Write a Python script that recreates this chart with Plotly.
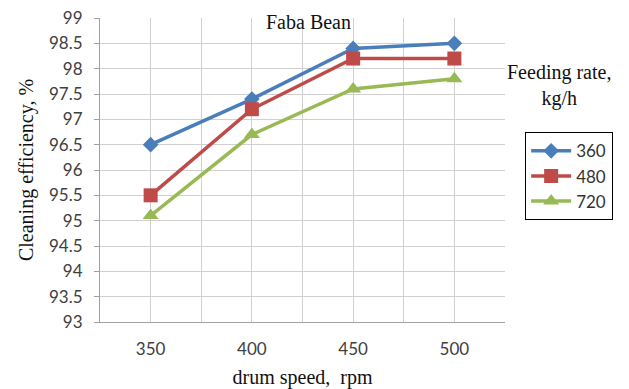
import plotly.graph_objects as go

speeds = [350, 400, 450, 500]
series_names = ["360", "480", "720"]
eff_360 = [96.5, 97.4, 98.4, 98.5]
eff_480 = [95.5, 97.2, 98.2, 98.2]
eff_720 = [95.1, 96.7, 97.6, 97.8]
y_ticks = [93, 93.5, 94, 94.5, 95, 95.5, 96, 96.5, 97, 97.5, 98, 98.5, 99]

colors = ["#4a7ebb", "#be4b48", "#98b954"]
symbols = ["diamond", "square", "triangle-up"]
sizes = [12, 14, 14]

serif = dict(family="Liberation Serif, serif", size=20, color="#111")

fig = go.Figure()
for name, vals, c, s, sz in zip(series_names, [eff_360, eff_480, eff_720], colors, symbols, sizes):
    fig.add_trace(go.Scatter(x=speeds, y=vals, name=name, mode="lines+markers",
                             line=dict(color=c, width=3.5),
                             marker=dict(symbol=s, size=sz, color=c)))

grid_x = [325, 350, 375, 400, 425, 450, 475, 500, 525]
fig.update_layout(
    width=629, height=389,
    margin=dict(l=100, r=124, t=18, b=67),
    paper_bgcolor="white", plot_bgcolor="white",
    font=dict(family="Lato, Liberation Sans, sans-serif", size=17, color="#404040"),
    xaxis=dict(range=[325, 525], tickvals=grid_x,
               ticktext=["" if v not in speeds else str(v) for v in grid_x],
               showgrid=True, gridcolor="#d0d0d0", gridwidth=1.3,
               showline=True, linecolor="#a0a0a0", zeroline=False,
               ticks="", ticklabelstandoff=12, automargin=False,
               title=dict(text="drum speed,  rpm", standoff=12, font=serif)),
    yaxis=dict(range=[93, 99], tickvals=y_ticks, ticktext=[f"{v:g}" for v in y_ticks],
               showgrid=True, gridcolor="#d0d0d0", gridwidth=1.3,
               showline=True, linecolor="#a0a0a0", zeroline=False,
               ticks="outside", ticklen=5, tickcolor="#a0a0a0", ticklabelstandoff=8,
               automargin=False,
               title=dict(text="Cleaning efficiency, %", standoff=10, font=serif)),
    legend=dict(x=1.049, y=0.625, xanchor="left", yanchor="top",
                bordercolor="black", borderwidth=1.3, bgcolor="white",
                font=dict(size=17, color="#333"), itemwidth=40, tracegroupgap=2),
    showlegend=True,
)
fig.add_annotation(text="Faba Bean", xref="paper", yref="paper", x=0.514, y=1.03,
                   xanchor="center", yanchor="top", showarrow=False, font=serif)
fig.add_annotation(text="Feeding rate,<br>kg/h", xref="paper", yref="paper", x=1.133, y=0.865,
                   xanchor="center", yanchor="top", showarrow=False, align="center",
                   font=serif)
fig.write_html("out.html")
